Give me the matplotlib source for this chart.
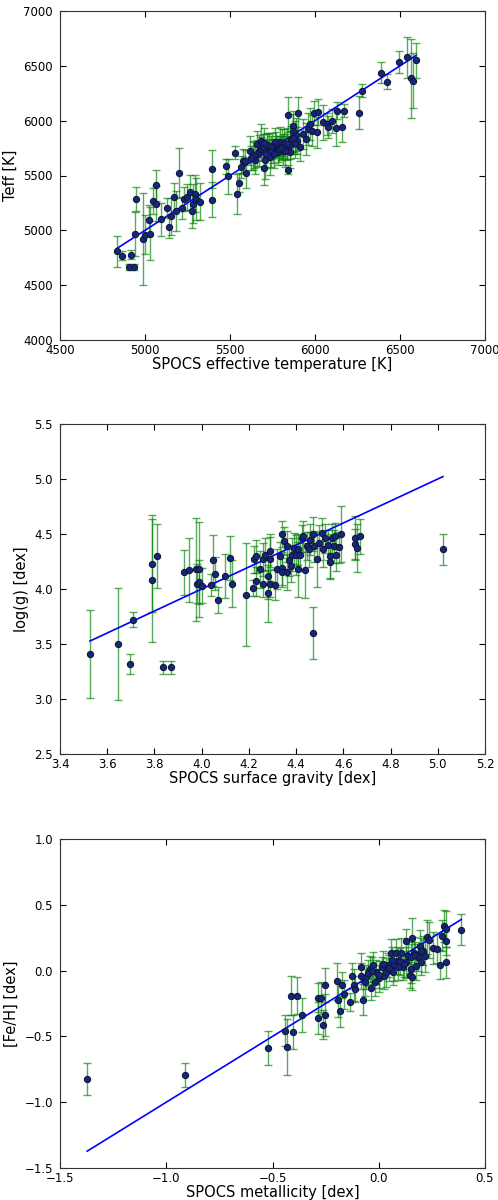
import numpy as np
import matplotlib
matplotlib.use("Agg")
import matplotlib.pyplot as plt

# Painel 1: temperatura efetiva
spocs_teff = [4833, 4863, 4916, 4908, 4935, 4947, 4941, 4990, 5000, 5025, 5029, 5049, 5063, 5065,
              5092, 5131, 5143, 5153, 5173, 5180, 5202, 5220, 5231, 5245, 5265, 5275, 5284, 5294,
              5300, 5324, 5396, 5396, 5477, 5486, 5528, 5539, 5553, 5565, 5575, 5588, 5594, 5618,
              5633, 5647, 5657, 5671, 5682, 5702, 5706, 5716, 5730, 5735, 5755, 5775, 5784, 5804,
              5814, 5833, 5843, 5843, 5853, 5869, 5873, 5882, 5892, 5902, 5912, 5931, 5947, 5961,
              5971, 5980, 5994, 6010, 6020, 6045, 6069, 6075, 6098, 6124, 6128, 6161, 6169, 6259,
              6275, 6386, 6422, 6496, 6539, 6565, 6579, 6594,
              5660, 5680, 5695, 5710, 5720, 5740, 5745, 5760, 5770, 5790, 5795, 5810, 5820, 5825,
              5850, 5860, 5880, 5890, 5640, 5625, 5700, 5765, 5800, 5835, 5870]
teff = [4809, 4770, 4779, 4667, 4667, 5288, 4970, 4924, 4961, 5091, 4970, 5267, 5409, 5243,
        5100, 5206, 5027, 5127, 5303, 5176, 5521, 5200, 5282, 5303, 5346, 5179, 5243, 5333,
        5288, 5261, 5558, 5279, 5585, 5494, 5709, 5333, 5436, 5576, 5636, 5636, 5527, 5727,
        5682, 5642, 5788, 5727, 5818, 5564, 5642, 5758, 5773, 5667, 5727, 5758, 5712, 5788,
        5727, 5758, 6055, 5552, 5712, 5955, 5909, 5848, 5818, 6067, 5758, 5879, 5833, 5924,
        5970, 5909, 6067, 5894, 6082, 5985, 5970, 5945, 6000, 5933, 6091, 5945, 6091, 6073,
        6273, 6439, 6355, 6536, 6576, 6388, 6364, 6552,
        5700, 5740, 5760, 5700, 5780, 5720, 5770, 5700, 5790, 5740, 5810, 5770, 5800, 5720,
        5780, 5830, 5800, 5870, 5690, 5660, 5800, 5810, 5750, 5790, 5840]
teff_err = [140, 40, 40, 30, 30, 110, 200, 420, 180, 140, 240, 120, 140, 160,
            150, 90, 100, 170, 130, 180, 230, 100, 110, 120, 160, 160, 180, 170,
            190, 170, 170, 160, 70, 160, 60, 180, 90, 100, 110, 100, 140, 130,
            130, 130, 120, 140, 150, 150, 170, 120, 110, 160, 110, 100, 120, 140,
            130, 120, 160, 40, 140, 130, 150, 150, 120, 150, 130, 140, 150, 150,
            150, 140, 110, 140, 120, 160, 100, 100, 110, 160, 80, 140, 60, 150,
            60, 100, 70, 100, 190, 360, 250, 160,
            120, 110, 120, 130, 110, 140, 120, 130, 110, 120, 130, 110, 120, 140,
            130, 120, 140, 150, 120, 110, 130, 120, 110, 140, 130]

# Painel 2: gravidade superficial
spocs_logg = [3.527, 3.647, 3.697, 3.708, 3.789, 3.789, 3.81, 3.838, 3.869, 3.927, 3.948, 3.977,
              3.988, 3.979, 3.988, 4.0, 4.039, 4.05, 4.058, 4.07, 4.098, 4.12, 4.13, 4.188, 4.217,
              4.22, 4.23, 4.23, 4.248, 4.258, 4.259, 4.27, 4.279, 4.279, 4.289, 4.29, 4.29, 4.311,
              4.321, 4.33, 4.34, 4.34, 4.34, 4.35, 4.36, 4.36, 4.369, 4.378, 4.382, 4.389, 4.40,
              4.406, 4.41, 4.417, 4.424, 4.431, 4.438, 4.446, 4.453, 4.46, 4.47, 4.47, 4.477,
              4.488, 4.495, 4.51, 4.516, 4.523, 4.533, 4.542, 4.542, 4.552, 4.559, 4.566, 4.57,
              4.58, 4.59, 4.649, 4.649, 4.66, 4.672, 5.022]
logg = [3.41, 3.50, 3.32, 3.72, 4.23, 4.08, 4.30, 3.288, 3.288, 4.15, 4.17, 4.18,
        4.18, 4.05, 4.06, 4.03, 4.04, 4.26, 4.14, 3.90, 4.12, 4.28, 4.05, 3.95, 4.01,
        4.27, 4.30, 4.07, 4.18, 4.27, 4.05, 4.31, 4.12, 3.96, 4.27, 4.35, 4.05, 4.04,
        4.18, 4.30, 4.50, 4.19, 4.15, 4.44, 4.39, 4.15, 4.26, 4.21, 4.31, 4.37, 4.31,
        4.18, 4.36, 4.31, 4.46, 4.48, 4.17, 4.39, 4.36, 4.45, 4.50, 3.60, 4.39,
        4.27, 4.42, 4.51, 4.36, 4.46, 4.40, 4.30, 4.25, 4.46, 4.39, 4.48, 4.31,
        4.38, 4.50, 4.46, 4.41, 4.37, 4.48, 4.36]
logg_err = [0.40, 0.51, 0.09, 0.07, 0.44, 0.56, 0.29, 0.06, 0.06, 0.20, 0.29, 0.47,
            0.43, 0.18, 0.20, 0.16, 0.10, 0.23, 0.15, 0.12, 0.20, 0.20, 0.21, 0.47, 0.07,
            0.12, 0.15, 0.13, 0.17, 0.15, 0.12, 0.15, 0.21, 0.26, 0.20, 0.15, 0.12, 0.14,
            0.18, 0.13, 0.12, 0.15, 0.13, 0.12, 0.14, 0.16, 0.14, 0.15, 0.15, 0.14, 0.18,
            0.25, 0.14, 0.15, 0.12, 0.14, 0.25, 0.13, 0.16, 0.14, 0.15, 0.24, 0.14,
            0.25, 0.16, 0.14, 0.16, 0.13, 0.14, 0.20, 0.16, 0.13, 0.15, 0.12, 0.15,
            0.14, 0.25, 0.20, 0.14, 0.22, 0.16, 0.14]

# Painel 3: metalicidade
spocs_feh = [-1.372, -0.912, -0.521, -0.442, -0.433, -0.414, -0.403, -0.383, -0.361, -0.284,
             -0.284, -0.273, -0.262, -0.253, -0.253, -0.195, -0.192, -0.182, -0.171, -0.163,
             -0.134, -0.124, -0.118, -0.113, -0.082, -0.082, -0.074, -0.066, -0.058, -0.043,
             -0.035, -0.027, -0.02, -0.011, 0.003, 0.014, 0.025, 0.034, 0.045, 0.058, 0.069,
             0.074, 0.08, 0.09, 0.106, 0.114, 0.127, 0.13, 0.138, 0.146, 0.154, 0.158, 0.158,
             0.164, 0.174, 0.185, 0.192, 0.2, 0.208, 0.219, 0.227, 0.236, 0.255, 0.275, 0.286,
             0.297, 0.305, 0.318, 0.318, 0.318, 0.388,
             -0.05, -0.03, 0.0, 0.02, 0.05, 0.06, 0.09, 0.1, 0.12, 0.15, 0.17, 0.2]
feh = [-0.825, -0.795, -0.59, -0.456, -0.58, -0.19, -0.468, -0.19, -0.34, -0.205,
       -0.36, -0.21, -0.41, -0.11, -0.34, -0.08, -0.22, -0.31, -0.11, -0.18,
       -0.24, -0.04, -0.11, -0.14, 0.025, -0.04, -0.22, -0.09, -0.05, 0.013,
       -0.13, 0.04, -0.09, -0.013, -0.06, 0.025, -0.04, -0.013, 0.04, 0.13, -0.013,
       0.04, 0.13, 0.076, 0.13, 0.025, 0.225, 0.063, 0.114, -0.033, 0.013, 0.246, -0.05,
       0.134, 0.038, 0.10, 0.19, 0.068, 0.152, 0.109, 0.258, 0.233, 0.17, 0.165, 0.043,
       0.266, 0.337, 0.316, 0.225, 0.063, 0.311,
       -0.02, 0.0, -0.03, 0.05, 0.02, 0.08, 0.03, 0.07, 0.05, 0.1, 0.12, 0.15]
feh_err = [0.12, 0.09, 0.13, 0.12, 0.21, 0.15, 0.13, 0.14, 0.13, 0.11,
           0.12, 0.12, 0.11, 0.13, 0.16, 0.14, 0.13, 0.12, 0.10, 0.11,
           0.07, 0.10, 0.12, 0.10, 0.11, 0.10, 0.12, 0.10, 0.09, 0.10,
           0.09, 0.10, 0.10, 0.09, 0.10, 0.08, 0.10, 0.11, 0.09, 0.11, 0.10,
           0.12, 0.11, 0.10, 0.12, 0.10, 0.09, 0.12, 0.10, 0.10, 0.11, 0.15, 0.10,
           0.12, 0.11, 0.10, 0.12, 0.10, 0.11, 0.12, 0.13, 0.14, 0.12, 0.11, 0.11,
           0.12, 0.12, 0.14, 0.11, 0.12, 0.12,
           0.10, 0.10, 0.10, 0.10, 0.10, 0.10, 0.10, 0.10, 0.10, 0.10, 0.10, 0.10]

panels = [
    (spocs_teff, teff, teff_err, "SPOCS effective temperature [K]", "Teff [K]",
     (4500, 7000), (4000, 7000), np.arange(4500, 7001, 500), np.arange(4000, 7001, 500)),
    (spocs_logg, logg, logg_err, "SPOCS surface gravity [dex]", "log(g) [dex]",
     (3.4, 5.2), (2.5, 5.5), np.arange(3.4, 5.21, 0.2), np.arange(2.5, 5.51, 0.5)),
    (spocs_feh, feh, feh_err, "SPOCS metallicity [dex]", "[Fe/H] [dex]",
     (-1.5, 0.5), (-1.5, 1.0), np.arange(-1.5, 0.51, 0.5), np.arange(-1.5, 1.01, 0.5)),
]

# posicoes dos eixos em pixels (topo, base)
tops = [11, 424, 839]
bottoms = [340, 754, 1168]

fig = plt.figure(figsize=(4.98, 12), dpi=100)
for i, (x, y, yerr, xlab, ylab, xlim, ylim, xt, yt) in enumerate(panels):
    ax = fig.add_axes([60 / 498, 1 - bottoms[i] / 1200, 425 / 498, (bottoms[i] - tops[i]) / 1200])
    ax.errorbar(x, y, yerr=yerr, fmt="none", ecolor="g", elinewidth=1, capsize=3,
                alpha=0.65, zorder=1)
    ax.scatter(x, y, s=20, c="#1a237e", edgecolors="#0b1a3a", linewidths=0.8, zorder=3)
    lo, hi = min(x), max(x)
    ax.plot([lo, hi], [lo, hi], color="b", lw=1.2, zorder=2)
    ax.set_xlim(xlim)
    ax.set_ylim(ylim)
    ax.set_xticks(xt)
    ax.set_yticks(yt)
    if i == 0:
        ax.set_xticklabels([f"{v:.0f}" for v in xt])
        ax.set_yticklabels([f"{v:.0f}" for v in yt])
    else:
        ax.set_xticklabels([f"{v:.1f}".replace("-", "\u2212") for v in xt])
        ax.set_yticklabels([f"{v:.1f}".replace("-", "\u2212") for v in yt])
    ax.tick_params(direction="in", top=True, right=True, labelsize=8.5, length=4)
    ax.tick_params(axis="x", pad=3)
    ax.tick_params(axis="y", pad=5)
    for s in ax.spines.values():
        s.set_color("#333333")
    ax.set_xlabel(xlab, fontsize=10.5, labelpad=0)
    ax.set_ylabel(ylab, fontsize=10.5, labelpad=4)

fig.savefig("out.png", dpi=100)
